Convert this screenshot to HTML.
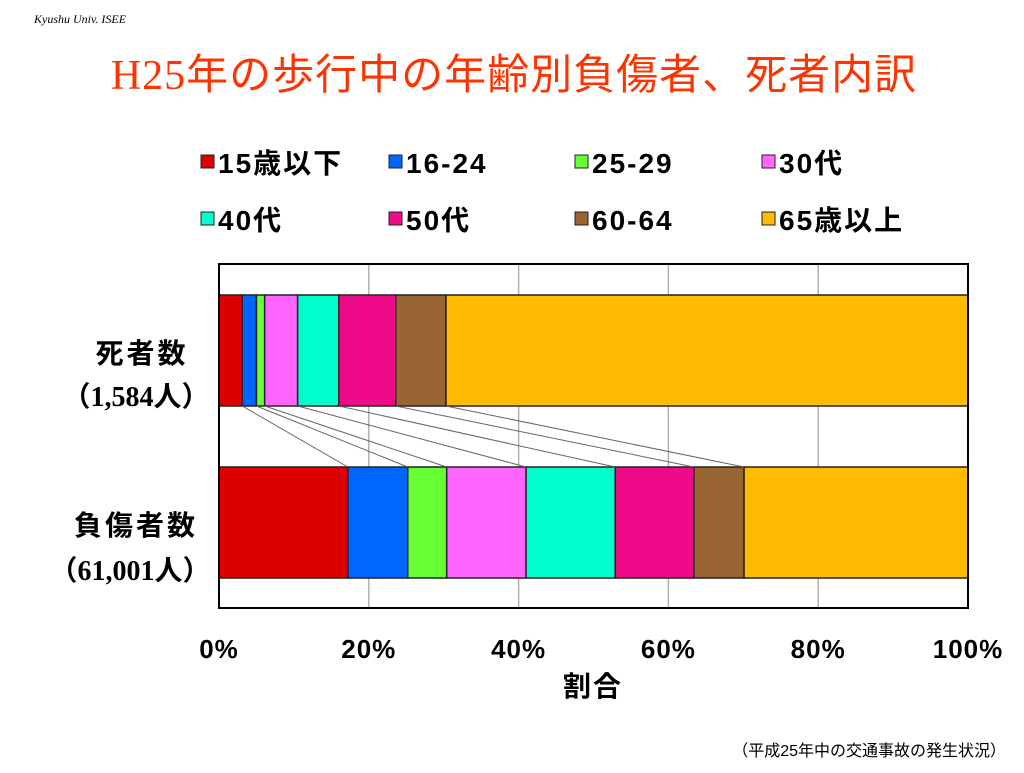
<!DOCTYPE html>
<html><head><meta charset="utf-8"><style>
body{margin:0;width:1024px;height:768px;background:#fff;overflow:hidden;font-family:"Liberation Sans","Noto Sans CJK JP",sans-serif;}
</style></head><body>
<svg width="1024" height="768" xmlns="http://www.w3.org/2000/svg">
<text x="34" y="23" font-family="Liberation Serif, serif" font-style="italic" font-size="12" fill="#000">Kyushu Univ. ISEE</text>
<text x="514" y="89" text-anchor="middle" font-family="Liberation Serif, Noto Sans CJK JP, serif" font-size="42" letter-spacing="1" fill="#ff3300">H25年の歩行中の年齢別負傷者、死者内訳</text>
<g id="legend"></g>
<g id="grid"></g>
<g id="bars"></g>
<rect x="219" y="264" width="749" height="344" fill="none" stroke="#000" stroke-width="2"/>
<g font-weight="bold" font-size="28" fill="#000" text-anchor="middle" letter-spacing="3">
<text x="142" y="363">死者数</text>
<text x="136" y="406" font-family="Liberation Serif, Noto Sans CJK JP, serif" letter-spacing="0">（1,584人）</text>
<text x="136" y="535">負傷者数</text>
<text x="130" y="580" font-family="Liberation Serif, Noto Sans CJK JP, serif" letter-spacing="0">（61,001人）</text>
</g>
<g id="xticks"></g>
<text x="593" y="696" text-anchor="middle" font-weight="bold" font-size="28" letter-spacing="2">割合</text>
<text x="1006" y="756" text-anchor="end" font-size="16">（平成25年中の交通事故の発生状況）</text>
</svg>
<script>
const categories=["15歳以下","16-24","25-29","30代","40代","50代","60-64","65歳以上"];
const colors=["#dd0000","#0066ff","#66ff33","#ff66ff","#00ffcc","#ee0a88","#996633","#ffbb00"];
const deaths=[3.1,1.9,1.1,4.4,5.5,7.6,6.7,69.7];
const injuries=[17.2,8.0,5.2,10.6,11.9,10.5,6.7,29.9];
const xTicks=[0,20,40,60,80,100];
const NS="http://www.w3.org/2000/svg";
const X0=219,W=749;
const xs=v=>X0+v/100*W;
function mk(t,a,p){const e=document.createElementNS(NS,t);for(const k in a)e.setAttribute(k,a[k]);p.appendChild(e);return e;}
const grid=document.getElementById('grid'),bars=document.getElementById('bars'),xt=document.getElementById('xticks'),lg=document.getElementById('legend');
xTicks.forEach(t=>{
 if(t>0&&t<100){const l=mk('line',{x1:xs(t),x2:xs(t),y1:264,y2:608,stroke:'#b0b0b0','stroke-width':1.5},grid);
 
 }
 const tx=mk('text',{x:xs(t),y:658,'text-anchor':'middle','font-weight':'bold','font-size':26,'letter-spacing':1},xt);tx.textContent=t+'%';
 
 
});
function drawBar(vals,y,h,name){let c=0;vals.forEach((v,i)=>{
 const r=mk('rect',{x:xs(c),y:y,width:xs(c+v)-xs(c),height:h,fill:colors[i],stroke:'#222','stroke-width':1.5},bars);
 
 
 c+=v;});}
drawBar(deaths,295,111,'deaths');
drawBar(injuries,467,111,'injuries');
let cd=0,ci=0;
for(let i=0;i<categories.length-1;i++){cd+=deaths[i];ci+=injuries[i];
 const l=mk('line',{x1:xs(cd),y1:406,x2:xs(ci),y2:467,stroke:'#666','stroke-width':1},bars);
 
 }
const lx=[208,396,582,769];
categories.forEach((c,i)=>{const x=lx[i%4],y=i<4?162:219;
 const g=mk('g',{},lg);
 
 
 mk('rect',{x:x-7,y:y-7,width:13,height:13,fill:colors[i],stroke:'#222','stroke-width':1},g);
 const t=mk('text',{x:x+10,y:y+11,'font-weight':'bold','font-size':28,'letter-spacing':2},g);t.textContent=c;});
</script>
</body></html>
